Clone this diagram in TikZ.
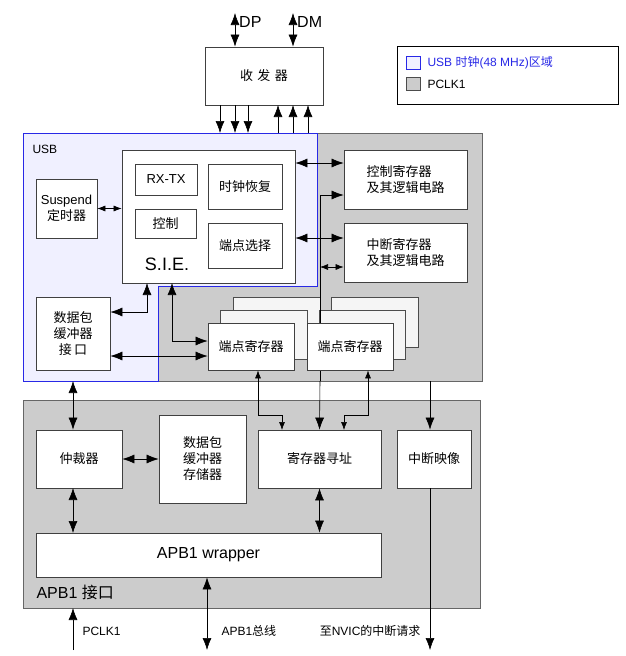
\documentclass[tikz,border=0pt]{standalone}
\usepackage{fontspec}
\setmainfont{Liberation Sans}
\newfontfamily\cjk{Noto Sans CJK SC}
\usetikzlibrary{arrows.meta}
\definecolor{regiongray}{gray}{0.8}
\definecolor{usbfill}{RGB}{240,240,255}
\definecolor{usbblue}{RGB}{40,40,230}
\tikzset{
  blk/.style={draw=black!75, fill=white, line width=0.7pt, align=center, font=\cjk\fontsize{13}{16}\selectfont},
  arr/.style={-{Latex[length=12pt,width=9pt]}, line width=0.6pt},
  darr/.style={{Latex[length=12pt,width=9pt]}-{Latex[length=12pt,width=9pt]}, line width=0.6pt},
  sarr/.style={{Latex[length=8pt,width=6pt]}-{Latex[length=8pt,width=6pt]}, line width=0.6pt}
}
\begin{document}
\begin{tikzpicture}[x=1pt,y=-1pt]
        \useasboundingbox (0,0) rectangle (625,656);

        % Regions
        \fill[regiongray] (23,133) rectangle (482,381);
        \draw[black!60,line width=0.7pt] (23,133) rectangle (482,381);
        \filldraw[fill=usbfill,draw=usbblue,line width=0.7pt] (23,133) -- (317,133) -- (317,286) -- (158,286) -- (158,381) -- (23,381) -- cycle;
        \node[anchor=west,font=\fontsize{12}{14}\selectfont] at (29,149) {USB};
        \filldraw[fill=regiongray,draw=black!60,line width=0.7pt] (23,400) rectangle (480,608);
        \node[anchor=west,font=\fontsize{16}{18}\selectfont] at (33,592) {APB1 {\cjk 接口}};

        % Legend
        \draw[line width=0.7pt] (397,46) rectangle (618,104);
        \filldraw[fill=usbfill,draw=usbblue] (406,56) rectangle (420,69);
        \node[anchor=west,text=usbblue,font=\fontsize{12}{14}\selectfont] at (424,63) {USB {\cjk 时钟}(48 MHz){\cjk 区域}};
        \filldraw[fill=regiongray,draw=black!70] (406,77) rectangle (420,90);
        \node[anchor=west,font=\fontsize{12}{14}\selectfont] at (424,84) {PCLK1};

        % Transceiver
        \node[blk,minimum width=118pt,minimum height=58pt] (xcvr) at (264,76) {收\,\,发\,\,器};
        \coordinate (dp) at (235,13);
        \coordinate (dm) at (293,13);
        \draw[darr] (dp) -- (dp |- xcvr.north) ;
        \draw[darr] (dm) -- (dm |- xcvr.north);
        \node[anchor=west,font=\fontsize{16}{18}\selectfont,inner sep=1pt] at (238,22) {DP};
        \node[anchor=west,font=\fontsize{16}{18}\selectfont,inner sep=1pt] at (296,22) {DM};
        \foreach \x in {220,235,248} \draw[arr] (\x,105) -- (\x,133);
        \foreach \x in {278,293,308} \draw[arr] (\x,133) -- (\x,105);

        % USB blocks
        \node[blk,minimum width=173pt,minimum height=133pt] (sie) at (208.5,216.5) {};
        \node[font=\fontsize{18}{20}\selectfont] at (167,264) {S.I.E.};
        \node[blk,font=\fontsize{13}{15}\selectfont,minimum width=62pt,minimum height=31pt] (rxtx) at (166,179.5) {RX-TX};
        \node[blk,minimum width=61pt,minimum height=29pt] (ctl) at (165.5,223.5) {控制};
        \node[blk,minimum width=74pt,minimum height=45pt] (clkrec) at (245,186.5) {时钟恢复};
        \node[blk,minimum width=74pt,minimum height=45pt] (epsel) at (245,245.5) {端点选择};
        \node[blk,minimum width=61pt,minimum height=59pt] (susp) at (66.5,208.5) {{\rmfamily Suspend}\\定时器};
        \node[blk,minimum width=74pt,minimum height=73pt] (pbif) at (73,333.5) {数据包\\缓冲器\\接\,口};

        % Registers
        \node[blk,minimum width=123pt,minimum height=59pt,align=left] (ctlreg) at (405.5,179.5) {控制寄存器\\及其逻辑电路};
        \node[blk,minimum width=123pt,minimum height=59pt,align=left] (intreg) at (405.5,252.5) {中断寄存器\\及其逻辑电路};
        \draw[black!70,fill=black!4,line width=0.7pt] (233,297) rectangle (320,347);
        \draw[black!70,fill=black!4,line width=0.7pt] (220,310) rectangle (307,359);
        \draw[black!70,fill=black!4,line width=0.7pt] (331,297) rectangle (418,347);
        \draw[black!70,fill=black!4,line width=0.7pt] (319,310) rectangle (405,359);
        \coordinate (bus) at (320,195);
        \draw[arr] (320,381) -- (bus) -- (ctlreg.west |- bus);
        \node[blk,minimum width=86pt,minimum height=47pt] (ep1) at (251,346.5) {端点寄存器};
        \node[blk,minimum width=86pt,minimum height=47pt] (ep2) at (350,346.5) {端点寄存器};

        % USB connections
        \draw[sarr] (susp.east) -- (sie.west |- susp.east);
        \draw[darr] (sie.east |- 0,163) -- (ctlreg.west |- 0,163);
        \draw[darr] (sie.east |- 0,238) -- (intreg.west |- 0,238);
        \draw[darr] (pbif.east |- 0,312) -| (147,283);
        \draw[darr] (172,283) |- (ep1.west |- 0,341);
        \draw[darr] (pbif.east |- 0,356) -- (ep1.west |- 0,356);
        \draw[sarr] (320,267) -- (intreg.west |- 0,267);

        % APB1 blocks
        \node[blk,minimum width=86pt,minimum height=58pt] (arb) at (79,459) {仲裁器};
        \node[blk,minimum width=87pt,minimum height=88pt] (pbmem) at (202.5,459) {数据包\\缓冲器\\存储器};
        \node[blk,minimum width=123pt,minimum height=58pt] (regaddr) at (319.5,459) {寄存器寻址};
        \node[blk,minimum width=74pt,minimum height=58pt] (intmap) at (434,459) {中断映像};
        \node[blk,font=\fontsize{16}{18}\selectfont,minimum width=345pt,minimum height=44pt] (wrap) at (208.5,555) {APB1 wrapper};

        % APB1 connections
        \draw[darr] (73,381) -- (arb.north -| 73,0);
        \draw[darr] (arb.east) -- (pbmem.west);
        \draw[darr] (73,488) -- (73,533);
        \draw[darr] (regaddr.south) -- (wrap.north -| regaddr.south);
        \draw[arr] (320,381) -- (regaddr.north);
        \draw[sarr] (ep1.south -| 258,0) -- (258,415) -| (282,430);
        \draw[sarr] (ep2.south -| 368,0) -- (368,415) -| (344,430);
        \draw[arr] (430,381) -- (intmap.north -| 430,0);

        % External signals
        \coordinate (pclk) at (73,650);
        \coordinate (apbbus) at (207,650);
        \coordinate (nvic) at (430,650);
        \draw[arr] (pclk) -- (73,608);
        \draw[darr] (apbbus) -- (wrap.south -| apbbus);
        \draw[arr] (intmap.south -| nvic) -- (nvic);
        \node[anchor=west,font=\fontsize{12}{14}\selectfont] at (79,631) {PCLK1};
        \node[anchor=west,font=\fontsize{12}{14}\selectfont] at (218,631) {APB1{\cjk 总线}};
        \node[anchor=east,font=\fontsize{12}{14}\selectfont] at (424,631) {{\cjk 至}NVIC{\cjk 的中断请求}};
\end{tikzpicture}
\end{document}
